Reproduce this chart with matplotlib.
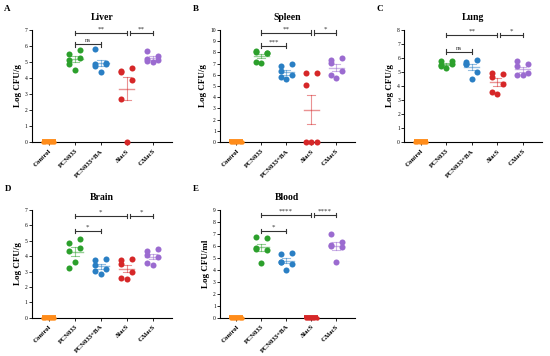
import matplotlib
matplotlib.use("Agg")
import matplotlib.pyplot as plt
import numpy as np

plt.rcParams['font.family'] = ['Liberation Serif', 'DejaVu Serif']

groups = ["Control", "PCN033", "PCN033+BA", "ΔlacS", "CΔlacS"]
colors = ["#ff8c1a", "#2ca02c", "#2a7fc4", "#d62728", "#9b6bd0"]

liver = [[0]*6,
         [5.5, 5.75, 5.1, 5.25, 4.5, 4.85],
         [5.8, 4.95, 4.9, 4.85, 4.4, 4.75],
         [4.45, 4.6, 4.35, 3.85, 0.0, 2.7],
         [5.7, 5.35, 5.2, 5.15, 5.0, 5.05]]
spleen = [[0]*6,
          [8.15, 7.95, 8.0, 7.9, 7.05, 7.1],
          [6.75, 6.95, 6.3, 6.0, 5.6, 5.8],
          [6.15, 6.2, 5.05, 0.0, 0.0, 0.0],
          [7.35, 7.5, 7.05, 6.3, 5.7, 5.95]]
lung = [[0]*6,
        [5.8, 5.75, 5.5, 5.55, 5.25, 5.45],
        [5.6, 5.85, 5.55, 5.0, 4.5, 5.7],
        [4.95, 4.85, 4.65, 4.15, 3.45, 3.6],
        [5.75, 5.55, 5.45, 4.95, 4.75, 4.75]]
brain = [[0]*6,
         [4.85, 5.1, 4.35, 4.55, 3.6, 3.25],
         [3.75, 3.85, 3.45, 3.15, 2.85, 3.05],
         [3.75, 3.85, 3.5, 2.95, 2.5, 2.6],
         [4.35, 4.5, 4.05, 3.95, 3.45, 3.55]]
blood = [[0]*6,
         [6.75, 6.65, 5.85, 5.7, 4.55, 5.75],
         [5.35, 5.45, 4.7, 4.5, 4.0, 4.7],
         [0]*6,
         [7.0, 6.35, 6.05, 5.95, 4.7, 6.0]]

titles = ["Liver", "Spleen", "Lung", "Brain", "Blood"]
letters = ["A", "B", "C", "D", "E"]
ylabels = ["Log CFU/g", "Log CFU/g", "Log CFU/g", "Log CFU/g", "Log CFU/ml"]
ymax = [7, 10, 8, 7, 9]
datasets = [liver, spleen, lung, brain, blood]
# significance: (group i, group j, level, label)
sigs = [
    [(1, 3, 6.8, "**"), (1, 2, 6.1, "ns"), (3.12, 4, 6.8, "**")],
    [(1, 3, 9.75, "**"), (1, 2, 8.6, "***"), (3.12, 4, 9.75, "*")],
    [(1, 3, 7.62, "**"), (1, 2, 6.45, "ns"), (3.12, 4, 7.62, "*")],
    [(1, 2, 5.63, "*"), (1, 3, 6.62, "*"), (3.12, 4, 6.62, "*")],
    [(1, 3, 8.57, "****"), (1, 2, 7.24, "*"), (3.12, 4, 8.57, "****")],
]

jit = [-0.22, 0.22, -0.22, 0.22, 0.0, -0.22]

fig = plt.figure(figsize=(5.5, 3.56), dpi=100)
rects = [(0.058, 0.601, 0.255, 0.315),
         (0.400, 0.601, 0.245, 0.315),
         (0.735, 0.601, 0.250, 0.315),
         (0.058, 0.107, 0.255, 0.303),
         (0.400, 0.107, 0.245, 0.303)]

for k, data in enumerate(datasets):
    ax = fig.add_axes(rects[k])
    for gi, vals in enumerate(data):
        vals = np.array(vals, dtype=float)
        c = colors[gi]
        if np.all(vals == 0):
            xs = gi + np.linspace(-0.22, 0.22, 6)
            ax.scatter(xs, vals, s=10, color=c, zorder=4, clip_on=False, lw=0)
            ax.plot([gi - 0.28, gi + 0.28], [0.05, 0.05], color=c, lw=2.8,
                    solid_capstyle='butt', clip_on=False, zorder=4)
            continue
        xs = gi + np.array(jit)
        ax.scatter(xs, vals, s=19, color=c, zorder=3, clip_on=False, lw=0)
        m = vals.mean()
        sem = vals.std(ddof=1) / np.sqrt(len(vals))
        lc = matplotlib.colors.to_rgba(c, 0.5)
        ax.plot([gi - 0.3, gi + 0.3], [m, m], color=lc, lw=1.0, zorder=4)
        ax.plot([gi, gi], [m - sem, m + sem], color=lc, lw=0.8, zorder=4)
        for yy in (m - sem, m + sem):
            ax.plot([gi - 0.15, gi + 0.15], [yy, yy], color=lc, lw=0.8, zorder=4)
    ax.set_xlim(-0.65, 4.75)
    ax.set_ylim(0, ymax[k])
    ax.set_yticks(range(0, ymax[k] + 1))
    ax.set_xticks(range(5))
    ax.set_xticklabels(groups, rotation=45, ha='right', rotation_mode='anchor',
                       fontsize=4.9, fontweight='bold')
    ax.tick_params(axis='y', labelsize=4, length=2, width=0.6, pad=1)
    ax.tick_params(axis='x', length=2.5, width=0.6, pad=2)
    for s in ['top', 'right']:
        ax.spines[s].set_visible(False)
    for s in ['left', 'bottom']:
        ax.spines[s].set_linewidth(0.8)
    ax.set_title(titles[k], fontsize=7, fontweight='bold', pad=7)
    ax.set_ylabel(ylabels[k], fontsize=6.5, fontweight='bold', labelpad=2)
    cap = ymax[k] * 0.02
    for (i, j, lev, lab) in sigs[k]:
        ax.plot([i, j], [lev, lev], color='#333333', lw=0.8, clip_on=False)
        for xx in (i, j):
            ax.plot([xx, xx], [lev - cap, lev + cap], color='#333333', lw=0.8,
                    clip_on=False)
        ax.text((i + j) / 2, lev + ymax[k] * 0.01, lab, ha='center', va='bottom',
                fontsize=5, color='#333333')
    bb = rects[k]
    fig.text(bb[0] - 0.05, bb[1] + bb[3] + 0.06, letters[k], fontsize=6.5,
             fontweight='bold', va='center')

fig.savefig("out.png", dpi=100)
